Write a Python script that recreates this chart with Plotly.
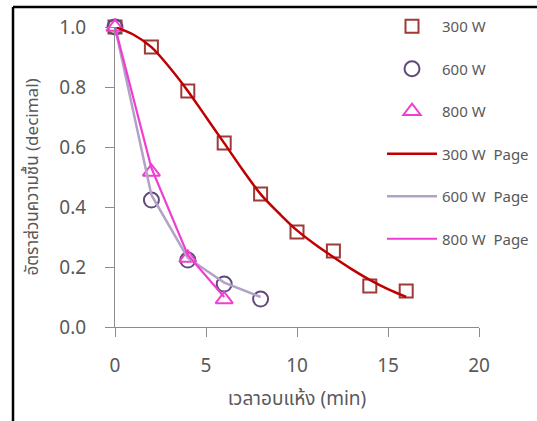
import plotly.graph_objects as go

# Data
t300 = [0, 2, 4, 6, 8, 10, 12, 14, 16]
mr300 = [1.0, 0.933, 0.787, 0.613, 0.443, 0.317, 0.253, 0.137, 0.12]
t600 = [0, 2, 4, 6, 8]
mr600 = [1.0, 0.423, 0.223, 0.143, 0.093]
t800 = [0, 2, 4, 6]
mr800 = [1.0, 0.517, 0.23, 0.092]

# Page model curves
tp300 = [0, 1, 2, 3, 4, 5, 6, 7, 8, 9, 10, 11, 12, 13, 14, 15, 16]
page300 = [1.0, 0.975, 0.933, 0.865, 0.787, 0.70, 0.613, 0.525, 0.443, 0.38, 0.322, 0.275, 0.233, 0.193, 0.157, 0.126, 0.10]
tp600 = [0, 2, 4, 6, 8]
page600 = [1.0, 0.44, 0.23, 0.148, 0.10]
tp800 = [0, 2, 4, 6]
page800 = [1.0, 0.53, 0.24, 0.10]

xticks = [0, 5, 10, 15, 20]
yticks = [0.0, 0.2, 0.4, 0.6, 0.8, 1.0]

FONT = "Noto Sans, Noto Sans Thai, sans-serif"
W, H = 537, 421
L, R, T, B = 115, 58, 27, 94

fig = go.Figure()
fig.add_trace(go.Scatter(x=t300, y=mr300, mode="markers", name="300 W", legendgroup="a",
                         marker=dict(symbol="square-open", size=13, color="#9e3b37", line=dict(width=2)),
                         cliponaxis=False))
fig.add_trace(go.Scatter(x=t600, y=mr600, mode="markers", name="600 W", legendgroup="b",
                         marker=dict(symbol="circle-open", size=15, color="#604a7b", line=dict(width=2)),
                         cliponaxis=False))
fig.add_trace(go.Scatter(x=t800, y=mr800, mode="markers", name="800 W", legendgroup="c",
                         marker=dict(symbol="triangle-up-open", size=15, color="#ee3fcf", line=dict(width=2)),
                         cliponaxis=False))
fig.add_trace(go.Scatter(x=tp300, y=page300, mode="lines", name="300 W  Page", legendgroup="d",
                         line=dict(color="#c00000", width=2.5, shape="spline"), cliponaxis=False))
fig.add_trace(go.Scatter(x=tp600, y=page600, mode="lines", name="600 W  Page", legendgroup="e",
                         line=dict(color="#b3a2c7", width=2.5), cliponaxis=False))
fig.add_trace(go.Scatter(x=tp800, y=page800, mode="lines", name="800 W  Page", legendgroup="f",
                         line=dict(color="#f03cd0", width=2.2), cliponaxis=False))

axis_common = dict(showgrid=False, zeroline=False, showline=True, linecolor="#8c8c8c", linewidth=1.2,
                   ticks="outside", ticklen=9, tickcolor="#8c8c8c", tickwidth=1.2,
                   tickfont=dict(family=FONT, size=19, color="#595959"))

fig.update_xaxes(range=[0, 20], tickvals=xticks, ticktext=[str(v) for v in xticks],
                 title=dict(text="เวลาอบแห้ง (min)", font=dict(family=FONT, size=19, color="#595959"), standoff=14),
                 ticklabelstandoff=12,
                 **axis_common)
fig.update_yaxes(range=[0, 1.0], tickvals=yticks, ticktext=[f"{v:.1f}" for v in yticks],
                 title=dict(text="อัตราส่วนความชื้น (decimal)", font=dict(family=FONT, size=17, color="#595959"), standoff=16),
                 ticklabelstandoff=15,
                 **axis_common)

px = lambda p: (p - L) / (W - L - R)
py = lambda p: (H - B - p) / (H - T - B)

fig.add_shape(type="line", xref="paper", yref="paper", x0=px(13), x1=px(540), y0=py(7), y1=py(7),
              line=dict(color="black", width=2.5))
fig.add_shape(type="line", xref="paper", yref="paper", x0=px(13), x1=px(13), y0=py(7), y1=py(425),
              line=dict(color="black", width=2.5))

fig.update_layout(
    width=W, height=H, margin=dict(l=L, r=R, t=T, b=B, autoexpand=False),
    paper_bgcolor="white", plot_bgcolor="white",
    font=dict(family=FONT, color="#595959"),
    legend=dict(x=px(382), y=py(10), xanchor="left", yanchor="top", bgcolor="rgba(0,0,0,0)",
                font=dict(family=FONT, size=15, color="#595959"), tracegroupgap=20, itemwidth=50,
                maxheight=400),
)

fig.write_html("out.html")
